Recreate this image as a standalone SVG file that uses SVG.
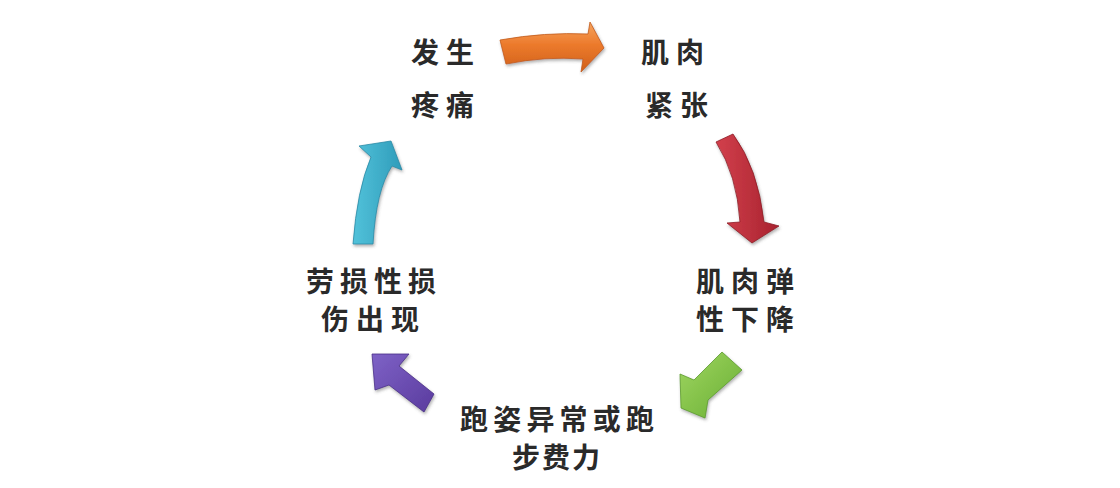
<svg xmlns="http://www.w3.org/2000/svg" width="1120" height="488" viewBox="0 0 1120 488">
<defs>
<style>
.lbl{font-family:"Noto Sans CJK SC","Noto Sans CJK JP",sans-serif;font-size:28px;font-weight:700;fill:#2a2a2a;letter-spacing:7px}
.arr{filter:url(#sh);stroke-width:0.8;stroke-linejoin:round}
</style>
<filter id="sh" x="-20%" y="-20%" width="140%" height="140%">
<feDropShadow dx="1" dy="2" stdDeviation="1.5" flood-color="#555" flood-opacity="0.45"/>
</filter>
<linearGradient id="gO" x1="0" y1="0" x2="0" y2="1"><stop offset="0" stop-color="#F6A45E"/><stop offset="0.45" stop-color="#EC7A2C"/><stop offset="1" stop-color="#D0601A"/></linearGradient>
<linearGradient id="gR" x1="0" y1="0" x2="1" y2="0"><stop offset="0" stop-color="#D2404C"/><stop offset="1" stop-color="#A8222F"/></linearGradient>
<linearGradient id="gG" x1="0" y1="0" x2="1" y2="1"><stop offset="0" stop-color="#A0D662"/><stop offset="1" stop-color="#68AE32"/></linearGradient>
<linearGradient id="gP" x1="0" y1="0" x2="1" y2="1"><stop offset="0" stop-color="#7E62C6"/><stop offset="1" stop-color="#5A3B9E"/></linearGradient>
<linearGradient id="gC" x1="0" y1="0" x2="1" y2="0"><stop offset="0" stop-color="#52C2DA"/><stop offset="1" stop-color="#2F9CBA"/></linearGradient>
</defs>
<rect width="1120" height="488" fill="#ffffff"/>

<g id="n-pain"><text class="lbl" x="411" y="63">发生</text><text class="lbl" x="411" y="116">疼痛</text></g>
<g id="n-tension"><text class="lbl" x="641" y="63">肌肉</text><text class="lbl" x="645" y="116">紧张</text></g>
<g id="n-elastic"><text class="lbl" x="696" y="292">肌肉弹</text><text class="lbl" x="696" y="330">性下降</text></g>
<g id="n-gait"><text class="lbl" x="460" y="430" style="letter-spacing:5.2px">跑姿异常或跑</text><text class="lbl" x="512" y="468" style="letter-spacing:2px">步费力</text></g>
<g id="n-injury"><text class="lbl" x="306" y="292" style="letter-spacing:6px">劳损性损</text><text class="lbl" x="321" y="330">伤出现</text></g>

<g id="connectors">
<path class="arr" fill="url(#gO)" stroke="#C25A1A" d="M500,40 Q545,32 588,34 L590,22 L604,48 L581,72 L583,59 Q545,56 506,64 Z"/>
<path class="arr" fill="url(#gR)" stroke="#8E1C26" d="M716,142 Q737,175 740,222 L727,223 L752,243 L779,226 L764,222 Q758,168 733,134 Z"/>
<path class="arr" fill="url(#gG)" stroke="#5C9A2C" d="M722,352 L742,370 L708,400 L705,418 L681,408 L680,374 L694,380 Z"/>
<path class="arr" fill="url(#gP)" stroke="#4A2E88" d="M372,354 L409,354 L399,366 L434,394 L424,412 L389,385 L375,390 Z"/>
<path class="arr" fill="url(#gC)" stroke="#2A8AA6" d="M353,244 L373,244 Q376,190 392,166 L402,170 L391,141 L359,146 L371,157 Q357,190 353,244 Z"/>
</g>
</svg>
